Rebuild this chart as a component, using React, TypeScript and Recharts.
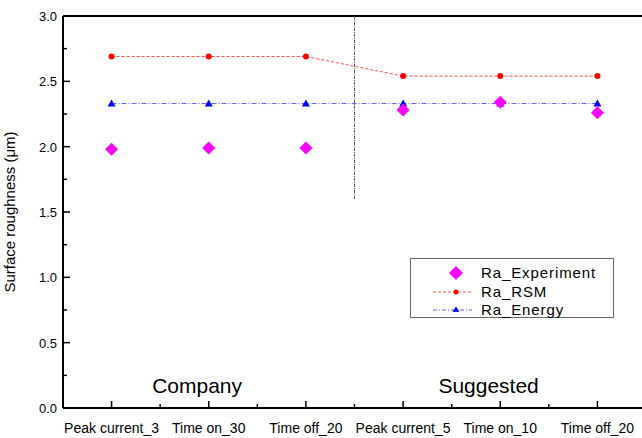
import React from "react";
import {
  ComposedChart,
  Line,
  Scatter,
  XAxis,
  YAxis,
  ReferenceLine,
  ReferenceDot,
} from "recharts";

const categories = [
  "Peak current_3",
  "Time on_30",
  "Time off_20",
  "Peak current_5",
  "Time on_10",
  "Time off_20",
];
const raExperiment = [1.98, 1.99, 1.99, 2.28, 2.34, 2.26];
const raRSM = [2.69, 2.69, 2.69, 2.54, 2.54, 2.54];
const raEnergy = [2.33, 2.33, 2.33, 2.33, 2.33, 2.33];
const xTicks = [1, 1.5, 2, 2.5, 3, 3.5, 4, 4.5, 5, 5.5, 6];
const yTicks = [0, 0.25, 0.5, 0.75, 1, 1.25, 1.5, 1.75, 2, 2.25, 2.5, 2.75, 3];
const yTickLabels = ["0.0", "0.5", "1.0", "1.5", "2.0", "2.5", "3.0"];
const groupLabels = [
  { name: "Company", x: 1.88, y: 0.17 },
  { name: "Suggested", x: 4.88, y: 0.17 },
];
const dividerX = 3.5;
const dividerFrom = 1.6;

const data = categories.map((c, i) => ({
  x: i + 1,
  name: c,
  exp: raExperiment[i],
  rsm: raRSM[i],
  energy: raEnergy[i],
}));

const FONT = "'Liberation Sans', Arial, sans-serif";

const XTick = (props: any) => {
  const { x, y, payload } = props;
  const v = payload.value;
  const isMajor = Number.isInteger(v);
  return (
    <g>
      <line x1={x} x2={x} y1={y} y2={y - (isMajor ? 7 : 4)} stroke="#000" strokeWidth={1.5} />
      {isMajor && (
        <text x={x} y={y + 25} textAnchor="middle" fontSize={14} fontFamily={FONT} fill="#000">
          {categories[v - 1]}
        </text>
      )}
    </g>
  );
};

const YTick = (props: any) => {
  const { x, y, payload } = props;
  const v = payload.value;
  const isMajor = Math.abs(v * 2 - Math.round(v * 2)) < 1e-6;
  return (
    <g>
      <line x1={x} x2={x + (isMajor ? 7 : 4)} y1={y} y2={y} stroke="#000" strokeWidth={1.5} />
      {isMajor && (
        <text x={x - 6} y={y + 5} textAnchor="end" fontSize={13} fontFamily={FONT} fill="#000">
          {yTickLabels[Math.round(v * 2)]}
        </text>
      )}
    </g>
  );
};

const Diamond = (props: any) => {
  const { cx, cy } = props;
  if (cx == null || cy == null) return null;
  const r = 6.5;
  return (
    <path
      d={`M${cx},${cy - r} L${cx + r},${cy} L${cx},${cy + r} L${cx - r},${cy} Z`}
      fill="#ff00ff"
    />
  );
};

const Triangle = (props: any) => {
  const { cx, cy } = props;
  if (cx == null || cy == null) return null;
  return (
    <path d={`M${cx},${cy - 4} L${cx + 4},${cy + 3} L${cx - 4},${cy + 3} Z`} fill="#0000ff" />
  );
};

const RedDot = (props: any) => {
  const { cx, cy } = props;
  if (cx == null || cy == null) return null;
  return <circle cx={cx} cy={cy} r={3} fill="#ff0000" />;
};

const legendText = { fontSize: 15, fontFamily: FONT, fill: "#000", letterSpacing: 0.9 };

const LegendBox = () => (
  <svg width={205} height={61} style={{ display: "block" }}>
    <rect x={0.5} y={0.5} width={203} height={59} fill="#fff" stroke="#666" />
    <path d="M46,8 L53,15 L46,22 L39,15 Z" fill="#ff00ff" />
    <text x={71} y={20} style={legendText}>Ra_Experiment</text>
    <line x1={23} x2={62} y1={34} y2={34} stroke="#ff5050" strokeDasharray="3 2" />
    <circle cx={46} cy={34} r={2.5} fill="#ff0000" />
    <text x={71} y={38.5} style={legendText}>Ra_RSM</text>
    <line x1={23} x2={62} y1={52} y2={52} stroke="#6060ff" strokeDasharray="4 2 1 2" />
    <path d="M46,48.5 L49.5,54 L42.5,54 Z" fill="#0000ff" />
    <text x={71} y={56.5} style={legendText}>Ra_Energy</text>
  </svg>
);

export default function App() {
  return (
    <div
      style={{
        position: "absolute",
        left: 0,
        top: 0,
        width: 642,
        height: 438,
        overflow: "hidden",
        background: "#fff",
      }}
    >
      <ComposedChart
        width={660}
        height={438}
        data={data}
        margin={{ top: 16, right: 14, bottom: 0, left: 0 }}
      >
        <XAxis
          dataKey="x"
          type="number"
          domain={[0.5, 6.5]}
          ticks={xTicks}
          interval={0}
          tickSize={0}
          tickMargin={0}
          tickLine={false}
          tick={<XTick />}
          height={30}
          axisLine={{ stroke: "#000", strokeWidth: 2 }}
          allowDecimals
        />
        <YAxis
          type="number"
          domain={[0, 3]}
          ticks={yTicks}
          interval={0}
          tickSize={0}
          tickMargin={0}
          tickLine={false}
          tick={<YTick />}
          width={63}
          axisLine={{ stroke: "#000", strokeWidth: 2 }}
          label={{
            value: "Surface roughness (\u03bcm)",
            angle: -90,
            position: "insideLeft",
            offset: 10,
            style: { textAnchor: "middle", fontSize: 15, fontFamily: FONT, fill: "#000" },
          }}
        />
        <ReferenceLine y={3} stroke="#000" strokeWidth={2} />
        <ReferenceLine
          segment={[
            { x: dividerX, y: dividerFrom },
            { x: dividerX, y: 3 },
          ]}
          stroke="#555"
          strokeDasharray="3 1 1 1"
          strokeWidth={1}
        />
        {groupLabels.map((g) => (
          <ReferenceDot
            key={g.name}
            x={g.x}
            y={g.y}
            r={0}
            fill="none"
            stroke="none"
            label={{
              value: g.name,
              position: "center",
              style: { fontSize: 21, fontFamily: FONT, fill: "#000" },
            }}
          />
        ))}
        <Line
          dataKey="energy"
          stroke="#6060ff"
          strokeWidth={1}
          strokeDasharray="5 2 1 2"
          dot={<Triangle />}
          activeDot={false}
          isAnimationActive={false}
        />
        <Line
          dataKey="rsm"
          stroke="#ff5050"
          strokeWidth={1}
          strokeDasharray="3 2"
          dot={<RedDot />}
          activeDot={false}
          isAnimationActive={false}
        />
        <Scatter dataKey="exp" shape={<Diamond />} isAnimationActive={false} />
      </ComposedChart>
      <div style={{ position: "absolute", left: 410, top: 258 }}>
        <LegendBox />
      </div>
    </div>
  );
}
